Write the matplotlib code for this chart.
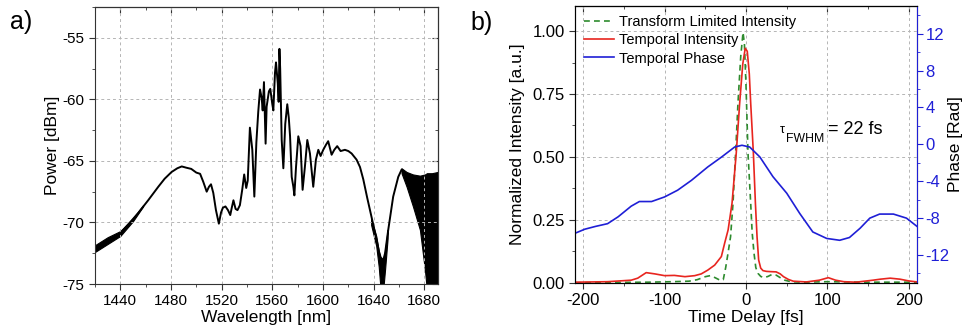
import numpy as np
import matplotlib
matplotlib.use('Agg')
import matplotlib.pyplot as plt
from matplotlib.ticker import MultipleLocator, FormatStrFormatter

plt.rcParams['font.family'] = ['Liberation Sans', 'DejaVu Sans']
plt.rcParams['axes.unicode_minus'] = False

# a) optical spectrum, centre line
wl = [1420, 1425, 1433, 1440, 1446, 1454, 1462, 1470, 1475, 1480.5, 1485, 1488.5, 1492, 1496,
      1500, 1503, 1505.5, 1508.2, 1510, 1511.6, 1513.4, 1515.5, 1517.8, 1519.5, 1521, 1523,
      1525, 1526.8, 1528, 1529.3, 1531, 1532.5, 1534.4, 1536.3, 1537.8, 1539.4, 1540.6, 1542.3,
      1544.2, 1545.8, 1547.4, 1548.9, 1550.3, 1551.6, 1552.4, 1553.4, 1554.7, 1555.5, 1557.3,
      1558.4, 1560, 1560.8, 1562.1, 1562.9, 1564.3, 1565, 1565.6, 1566.2, 1567.4, 1568.7,
      1570.2, 1571.8, 1573, 1574, 1575.3, 1576.6, 1577.4, 1578.7, 1580.5, 1582.3, 1583.9,
      1585.7, 1587.6, 1589.7, 1592.3, 1594.4, 1596.3, 1598.1, 1600.2, 1602.3, 1604.1, 1606.8,
      1608.9, 1611.2, 1613.9, 1617.3, 1620, 1622.6, 1626.5, 1629.2, 1631.8, 1634.9, 1638.4,
      1642.3, 1645, 1647, 1649, 1651.5, 1655.4, 1659.4, 1662.1, 1666]
power = [-72.1, -71.8, -71.4, -70.9, -70.2, -69.25, -68.2, -67.1, -66.45, -65.9, -65.6, -65.45,
         -65.55, -65.65, -65.95, -66.05, -66.7, -67.5, -67.1, -66.9, -67.6, -69.0, -70.1, -69.2,
         -68.8, -68.7, -69.0, -69.4, -68.8, -68.2, -68.9, -69.0, -68.6, -67.3, -66.1, -67.2,
         -66.6, -62.3, -64.1, -67.9, -63.5, -61.0, -59.2, -59.9, -60.9, -58.6, -63.6, -60.6,
         -59.35, -59.15, -60.4, -60.9, -57.85, -57.0, -58.7, -60.2, -55.9, -57.5, -63.3, -65.6,
         -62.0, -60.4, -61.5, -63.0, -66.3, -67.1, -67.8, -65.5, -63.0, -63.8, -67.35, -65.5,
         -63.3, -64.4, -67.1, -64.9, -64.1, -64.6, -64.1, -63.7, -63.4, -64.5, -64.1, -63.8,
         -64.2, -64.1, -64.2, -64.4, -64.9, -65.5, -66.5, -68.0, -69.6, -71.4, -72.8, -73.3,
         -72.5, -70.6, -67.9, -66.3, -65.7, -66.3]

# noisy parts of the spectrum: upper / lower envelopes
noise1_wl = [1420, 1430, 1440, 1450, 1458]
noise1_hi = [-71.85, -71.2, -70.7, -69.65, -68.6]
noise1_lo = [-72.4, -71.75, -71.1, -69.9, -68.7]
noise2_wl = [1638, 1642, 1644, 1645.5, 1647.5, 1649, 1651]
noise2_hi = [-69.7, -71.1, -72.3, -72.8, -73.0, -72.3, -70.6]
noise2_lo = [-70.2, -71.9, -73.6, -75.5, -75.5, -73.8, -71.3]
noise3_wl = [1662, 1666, 1671, 1676.5, 1680.5, 1682, 1686, 1690.5]
noise3_hi = [-65.6, -65.9, -66.1, -66.2, -66.1, -66.0, -66.0, -65.9]
noise3_lo = [-66.0, -67.1, -68.7, -70.6, -73.9, -75.5, -75.5, -75.5]

# b) temporal phase
t_phase = [-210, -198, -185, -170, -157, -141, -131, -116, -100, -84, -67, -47, -30, -14, -5,
           4.5, 17, 33, 50, 66, 82, 99, 115, 127, 140, 152, 164, 181, 197, 210]
phase = [-9.64, -9.2, -8.9, -8.6, -7.85, -6.7, -6.2, -6.2, -5.7, -4.97, -3.9, -2.45, -1.37,
         -0.29, -0.1, -0.29, -1.37, -3.5, -5.3, -7.5, -9.5, -10.2, -10.4, -10.1, -9.1, -8.0,
         -7.56, -7.56, -8.0, -8.9]

# b) temporal intensity
t_int = [-210, -170, -141, -133, -122.6, -112, -100, -88, -75, -63, -55, -47, -38.5, -30.3,
         -26.2, -22, -17.2, -12, -7.8, -4, -1, 1.5, 4, 5.7, 9, 11.5, 13.5, 15.5, 18, 20.8, 25,
         30, 37, 42, 46, 52, 58, 74, 90, 101, 110, 120, 135, 156, 165, 177, 189, 200, 210]
intensity = [0.002, 0.004, 0.01, 0.018, 0.04, 0.035, 0.028, 0.029, 0.024, 0.028, 0.035, 0.05,
             0.07, 0.104, 0.158, 0.21, 0.316, 0.516, 0.715, 0.87, 0.932, 0.92, 0.83, 0.715,
             0.516, 0.316, 0.183, 0.09, 0.058, 0.048, 0.045, 0.044, 0.043, 0.035, 0.024, 0.013,
             0.006, 0.003, 0.01, 0.02, 0.01, 0.004, 0.002, 0.01, 0.014, 0.018, 0.014, 0.007,
             0.003]

# b) transform limited intensity
t_tl = [-210, -120, -90, -70, -60, -50, -44, -38, -32, -28, -25, -22, -19, -16, -12.8, -9.9,
        -6.5, -3.7, -2, 0, 2.4, 5.7, 7.5, 9.8, 12, 14.7, 18, 22, 27, 32, 37, 42, 47.5, 55, 70,
        100, 150, 210]
tl = [0.0, 0.002, 0.004, 0.006, 0.012, 0.024, 0.028, 0.02, 0.01, 0.012, 0.06, 0.12, 0.183,
      0.316, 0.516, 0.715, 0.9, 0.995, 0.95, 0.78, 0.516, 0.316, 0.2, 0.117, 0.06, 0.037,
      0.025, 0.02, 0.025, 0.033, 0.03, 0.02, 0.01, 0.004, 0.002, 0.004, 0.002, 0.002]

red = '#e8251f'
blue = '#1f1fd6'
green = '#2e8b2e'
gridkw = dict(color='#b5b5b5', linestyle=(0, (3, 3)), linewidth=0.7)

fig = plt.figure(figsize=(9.64, 3.34), dpi=100)
ax = fig.add_axes([0.0985, 0.1497, 0.3555, 0.8293])
ax2 = fig.add_axes([0.5965, 0.1536, 0.3548, 0.8284])

# ---- a) ----
ax.plot(wl, power, color='black', lw=1.4)
for w, hi, lo in [(noise1_wl, noise1_hi, noise1_lo), (noise2_wl, noise2_hi, noise2_lo),
                  (noise3_wl, noise3_hi, noise3_lo)]:
    ax.fill_between(w, lo, hi, color='black', lw=0.8, edgecolor='black')
ax.set_xlim(1420, 1690.5)
ax.set_ylim(-75, -52.5)
ax.xaxis.set_major_locator(MultipleLocator(40))
ax.xaxis.set_minor_locator(MultipleLocator(20))
ax.yaxis.set_major_locator(MultipleLocator(5))
ax.yaxis.set_minor_locator(MultipleLocator(2.5))
ax.grid(True, **gridkw)
ax.tick_params(which='both', direction='out', labelsize=11, color='#333333')
ax.tick_params(which='major', length=4)
ax.tick_params(which='minor', length=2.5)
ax.set_xlabel('Wavelength [nm]', fontsize=12.5, labelpad=1)
ax.set_ylabel('Power [dBm]', fontsize=12.5, labelpad=2)
for s in ax.spines.values():
    s.set_color('#333333')
top = ax.secondary_xaxis('top')
top.xaxis.set_major_locator(MultipleLocator(40))
top.xaxis.set_minor_locator(MultipleLocator(20))
top.tick_params(which='both', direction='in', labeltop=False, color='#333333')
top.tick_params(which='major', length=4)
top.tick_params(which='minor', length=2.5)
right = ax.secondary_yaxis('right')
right.yaxis.set_major_locator(MultipleLocator(5))
right.yaxis.set_minor_locator(MultipleLocator(2.5))
right.tick_params(which='both', direction='in', labelright=False, color='#333333')
right.tick_params(which='major', length=4)
right.tick_params(which='minor', length=2.5)

# ---- b) ----
l1, = ax2.plot(t_tl, tl, color=green, lw=1.2, linestyle=(0, (3.5, 2.5)),
               label='Transform Limited Intensity')
l2, = ax2.plot(t_int, intensity, color=red, lw=1.2, label='Temporal Intensity')
ax2.set_xlim(-210, 210)
ax2.set_ylim(0, 1.1)
ax2.xaxis.set_major_locator(MultipleLocator(100))
ax2.xaxis.set_minor_locator(MultipleLocator(50))
ax2.yaxis.set_major_locator(MultipleLocator(0.25))
ax2.yaxis.set_minor_locator(MultipleLocator(0.125))
ax2.yaxis.set_major_formatter(FormatStrFormatter('%.2f'))
ax2.grid(True, **gridkw)
ax2.tick_params(which='both', direction='out', labelsize=12, color='#333333')
ax2.tick_params(which='major', length=4)
ax2.tick_params(which='minor', length=2.5)
ax2.set_xlabel('Time Delay [fs]', fontsize=12.5, labelpad=1)
ax2.set_ylabel('Normalized Intensity [a.u.]', fontsize=12.5, labelpad=5)
for s in ax2.spines.values():
    s.set_color('#333333')
top2 = ax2.secondary_xaxis('top')
top2.xaxis.set_major_locator(MultipleLocator(100))
top2.xaxis.set_minor_locator(MultipleLocator(50))
top2.tick_params(which='both', direction='in', labeltop=False, color='#333333')
top2.tick_params(which='major', length=4)
top2.tick_params(which='minor', length=2.5)

ph = ax2.twinx()
l3, = ph.plot(t_phase, phase, color=blue, lw=1.2, label='Temporal Phase')
ph.set_ylim(-15, 15)
ph.yaxis.set_major_locator(MultipleLocator(4))
ph.yaxis.set_minor_locator(MultipleLocator(2))
ph.tick_params(which='both', direction='out', colors=blue, labelsize=12, pad=2)
ph.tick_params(which='major', length=4)
ph.tick_params(which='minor', length=2.5)
ph.spines['right'].set_color(blue)
ph.set_ylabel('Phase [Rad]', fontsize=12.5, labelpad=-1)

ax2.legend(handles=[l1, l2, l3], loc='upper left', bbox_to_anchor=(-0.005, 1.005),
           frameon=False, fontsize=10.5, handlelength=2.1, handletextpad=0.35,
           labelspacing=0.3, borderpad=0.2)

ax2.text(0.600, 0.552, 'τ', transform=ax2.transAxes, fontsize=9, ha='left', va='center')
ax2.text(0.617, 0.520, 'FWHM', transform=ax2.transAxes, fontsize=8.8, ha='left', va='center')
ax2.text(0.740, 0.553, '= 22 fs', transform=ax2.transAxes, fontsize=13, ha='left', va='center')

fig.text(0.022, 0.935, 'a)', fontsize=18, ha='center', va='center')
fig.text(0.5, 0.932, 'b)', fontsize=18, ha='center', va='center')

fig.savefig('out.png', dpi=100)
